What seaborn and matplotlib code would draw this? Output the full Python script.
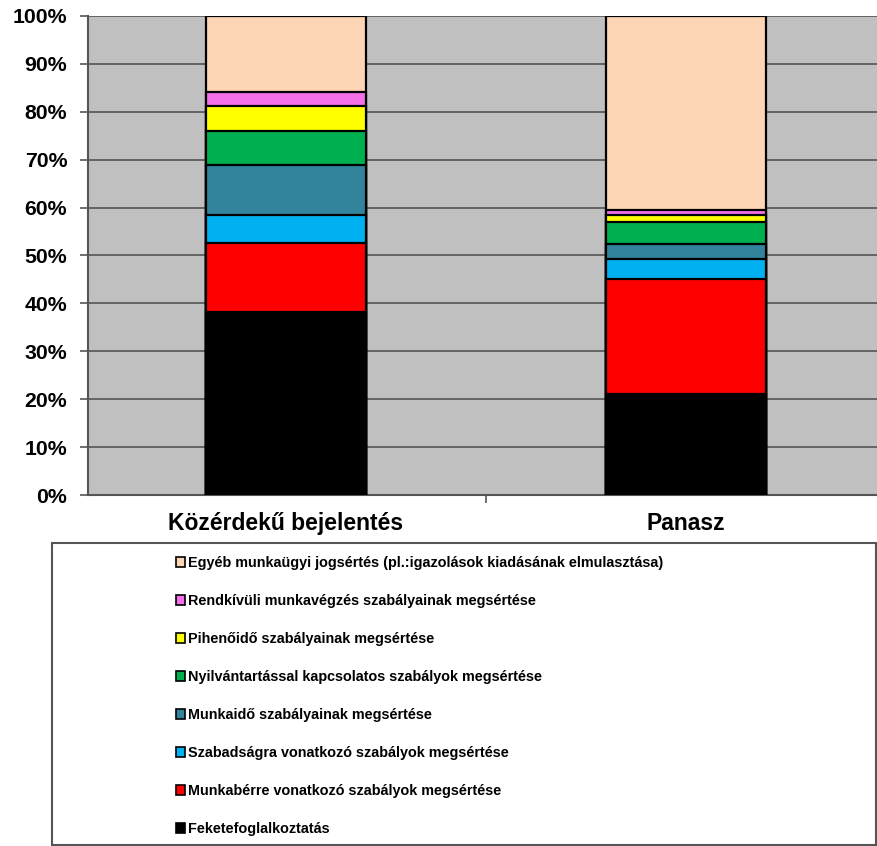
import numpy as np
import pandas as pd
import matplotlib
matplotlib.use("Agg")
import matplotlib.pyplot as plt
from matplotlib.patches import Patch, Rectangle
from matplotlib.ticker import FixedLocator, PercentFormatter
import seaborn as sns

categories = ["Közérdekű bejelentés", "Panasz"]

# series (bottom to top)
series_names = [
    "Feketefoglalkoztatás",
    "Munkabérre vonatkozó szabályok megsértése",
    "Szabadságra vonatkozó szabályok megsértése",
    "Munkaidő szabályainak megsértése",
    "Nyilvántartással kapcsolatos szabályok megsértése",
    "Pihenőidő szabályainak megsértése",
    "Rendkívüli munkavégzés szabályainak megsértése",
    "Egyéb munkaügyi jogsértés (pl.:igazolások kiadásának elmulasztása)",
]
feketefoglalkoztatas = [38.3, 21.1]
munkaber = [14.4, 24.0]
szabadsag = [5.8, 4.2]
munkaido = [10.4, 3.2]
nyilvantartas = [7.1, 4.5]
pihenoido = [5.2, 1.5]
rendkivuli = [3.0, 1.0]
egyeb = [15.8, 40.5]

series_values = [feketefoglalkoztatas, munkaber, szabadsag, munkaido,
                 nyilvantartas, pihenoido, rendkivuli, egyeb]
colors = ["#000000", "#FF0000", "#00B0F0", "#31849B",
          "#00B050", "#FFFF00", "#F470E8", "#FCD5B4"]
yticks = [0, 10, 20, 30, 40, 50, 60, 70, 80, 90, 100]

sns.set_style("white")
plt.rcParams["font.family"] = ["Liberation Sans", "DejaVu Sans"]
plt.rcParams["text.color"] = "black"
plt.rcParams["xtick.color"] = "black"
plt.rcParams["ytick.color"] = "black"

fig = plt.figure(figsize=(8.77, 8.46), dpi=100)
ax = fig.add_axes([88/877, 1-495/846, 1-88/877, (495-16)/846])
ax.set_facecolor("#C0C0C0")

vals = np.array(series_values)
cum = np.cumsum(vals, axis=0)
for i in range(len(series_names)-1, -1, -1):
    df = pd.DataFrame({"cat": categories, "val": cum[i]})
    sns.barplot(data=df, x="cat", y="val", color=colors[i], width=0.4,
                edgecolor="black", linewidth=1.6, saturation=1, ax=ax, zorder=3)

ax.set_xlim(-0.495, 1.4775)
ax.set_ylim(0, 100)
ax.yaxis.set_major_locator(FixedLocator(yticks))
ax.yaxis.set_major_formatter(PercentFormatter(decimals=0))
ax.grid(axis="y", color="#555555", linewidth=1.2, zorder=0)
ax.set_axisbelow(True)
for s in ["top", "right"]:
    ax.spines[s].set_visible(False)
for s in ["left", "bottom"]:
    ax.spines[s].set_color("#555555")
    ax.spines[s].set_linewidth(1.5)
ax.tick_params(axis="y", left=True, length=6, width=1.2, color="#555555",
               labelsize=15.3, labelcolor="black", pad=9)
for t in ax.get_yticklabels():
    t.set_fontweight("bold")
ax.set_xticks([0, 1])
ax.set_xticklabels(categories, fontsize=16.5, fontweight="bold", color="black")
ax.tick_params(axis="x", bottom=False, pad=9)
ax.xaxis.set_minor_locator(FixedLocator([0.5]))
ax.tick_params(axis="x", which="minor", bottom=True, length=6, width=1.2,
               color="#555555")
ax.set_xlabel("")
ax.set_ylabel("")

# legend frame
fig.patches.append(Rectangle((52/877, 1/846), (876-52)/877, (845-543)/846,
                             transform=fig.transFigure, facecolor="white",
                             edgecolor="#555555", linewidth=1.5, zorder=0))
handles = [Patch(facecolor=colors[i], edgecolor="black", linewidth=1.2,
                 label=series_names[i]) for i in range(len(series_names)-1, -1, -1)]
leg = fig.legend(handles=handles, loc="upper left",
                 bbox_to_anchor=(176/877, 1-556/846), frameon=False,
                 prop={"size": 10.4, "weight": "bold"}, handlelength=0.65,
                 handleheight=0.65, handletextpad=0.2, labelspacing=1.66,
                 borderpad=0, borderaxespad=0, labelcolor="black")

fig.savefig("out.png", dpi=100)
